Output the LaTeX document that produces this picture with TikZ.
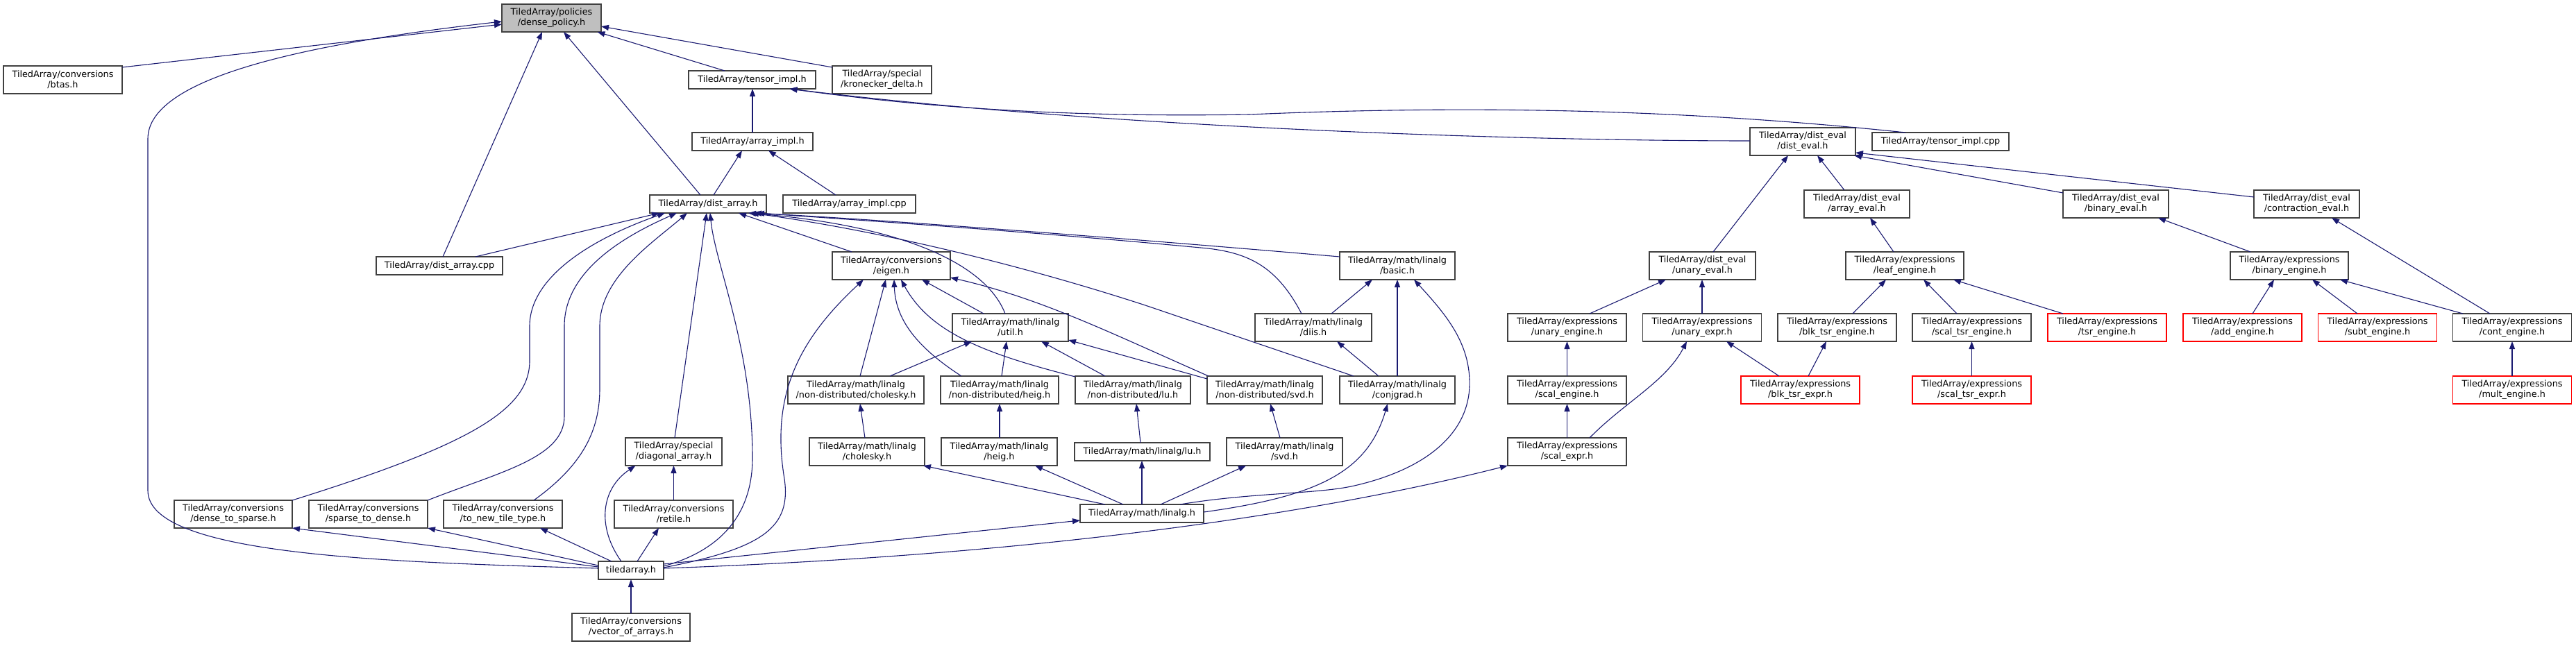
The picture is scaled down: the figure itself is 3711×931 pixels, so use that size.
\documentclass[tikz,border=0pt]{standalone}
\usepackage{fontspec}
\setmainfont{DejaVu Sans}
\usetikzlibrary{arrows.meta,calc}
\definecolor{edgec}{RGB}{25,25,112}
\begin{document}
\begin{tikzpicture}[x=0.5pt,y=-0.5pt,
  box/.style={draw=black!75, line width=0.6pt, fill=white, inner sep=0pt, align=center, font=\fontsize{6.4pt}{7.5pt}\selectfont},
  two/.style={minimum height=20pt},
  one/.style={minimum height=13pt},
  trunc/.style={draw=red},
  mainnode/.style={fill=black!25},
  inc/.style={draw=edgec, line width=0.55pt, -{Triangle[length=5.5pt,width=4pt]}}]
\useasboundingbox (0,0) rectangle (3711,931);
% row 1
\node[box,two,mainnode,minimum width=71.5pt] (dp) at (794.5,26) {TiledArray/policies\\/dense\_policy.h};
% row 2
\node[box,two,minimum width=85.5pt] (btas) at (90.5,115) {TiledArray/conversions\\/btas.h};
\node[box,one,minimum width=91.5pt] (timpl) at (1083.5,115) {TiledArray/tensor\_impl.h};
\node[box,two,minimum width=71.5pt] (kron) at (1270.5,115) {TiledArray/special\\/kronecker\_delta.h};
% row 3
\node[box,one,minimum width=87pt] (aimpl) at (1084,204) {TiledArray/array\_impl.h};
\node[box,two,minimum width=76pt] (deval) at (2597,204) {TiledArray/dist\_eval\\/dist\_eval.h};
\node[box,one,minimum width=98.5pt] (tcpp) at (2795.5,204) {TiledArray/tensor\_impl.cpp};
% row 4
\node[box,one,minimum width=84pt] (darr) at (1020,294) {TiledArray/dist\_array.h};
\node[box,one,minimum width=95.5pt] (acpp) at (1223.5,294) {TiledArray/array\_impl.cpp};
\node[box,two,minimum width=76pt] (aeval) at (2675,294) {TiledArray/dist\_eval\\/array\_eval.h};
\node[box,two,minimum width=76pt] (beval) at (3048,294) {TiledArray/dist\_eval\\/binary\_eval.h};
\node[box,two,minimum width=76pt] (ceval) at (3323,294) {TiledArray/dist\_eval\\/contraction\_eval.h};
% row 5
\node[box,one,minimum width=91pt] (dcpp) at (633,383) {TiledArray/dist\_array.cpp};
\node[box,two,minimum width=85pt] (eigen) at (1284,383) {TiledArray/conversions\\/eigen.h};
\node[box,two,minimum width=83pt] (basic) at (2013,383) {TiledArray/math/linalg\\/basic.h};
\node[box,two,minimum width=76.5pt] (ueval) at (2452.5,383) {TiledArray/dist\_eval\\/unary\_eval.h};
\node[box,two,minimum width=85pt] (leaf) at (2744,383) {TiledArray/expressions\\/leaf\_engine.h};
\node[box,two,minimum width=85pt] (bengine) at (3298,383) {TiledArray/expressions\\/binary\_engine.h};
% row 6
\node[box,two,minimum width=83.5pt] (util) at (1455.5,472) {TiledArray/math/linalg\\/util.h};
\node[box,two,minimum width=84pt] (diis) at (1892,472) {TiledArray/math/linalg\\/diis.h};
\node[box,two,minimum width=85.5pt] (uengine) at (2257.5,472) {TiledArray/expressions\\/unary\_engine.h};
\node[box,two,minimum width=85.5pt] (uexpr) at (2452,472) {TiledArray/expressions\\/unary\_expr.h};
\node[box,two,minimum width=85.5pt] (blkeng) at (2646.5,472) {TiledArray/expressions\\/blk\_tsr\_engine.h};
\node[box,two,minimum width=85.5pt] (stseng) at (2840.5,472) {TiledArray/expressions\\/scal\_tsr\_engine.h};
\node[box,two,trunc,minimum width=85.5pt] (tsreng) at (3035.5,472) {TiledArray/expressions\\/tsr\_engine.h};
\node[box,two,trunc,minimum width=85.5pt] (addeng) at (3230.5,472) {TiledArray/expressions\\/add\_engine.h};
\node[box,two,trunc,minimum width=85.5pt] (subeng) at (3425,472) {TiledArray/expressions\\/subt\_engine.h};
\node[box,two,minimum width=85.5pt] (conteng) at (3619,472) {TiledArray/expressions\\/cont\_engine.h};
% row 7
\node[box,two,minimum width=98pt] (ndchol) at (1233,562) {TiledArray/math/linalg\\/non-distributed/cholesky.h};
\node[box,two,minimum width=85pt] (ndheig) at (1440,562) {TiledArray/math/linalg\\/non-distributed/heig.h};
\node[box,two,minimum width=83pt] (ndlu) at (1632,562) {TiledArray/math/linalg\\/non-distributed/lu.h};
\node[box,two,minimum width=83pt] (ndsvd) at (1822,562) {TiledArray/math/linalg\\/non-distributed/svd.h};
\node[box,two,minimum width=83pt] (conjgrad) at (2013,562) {TiledArray/math/linalg\\/conjgrad.h};
\node[box,two,minimum width=85.5pt] (sceng) at (2257.5,562) {TiledArray/expressions\\/scal\_engine.h};
\node[box,two,trunc,minimum width=85.5pt] (blkexpr) at (2593.5,562) {TiledArray/expressions\\/blk\_tsr\_expr.h};
\node[box,two,trunc,minimum width=85.5pt] (stsexpr) at (2840.5,562) {TiledArray/expressions\\/scal\_tsr\_expr.h};
\node[box,two,trunc,minimum width=85.5pt] (multeng) at (3619,562) {TiledArray/expressions\\/mult\_engine.h};
% row 8
\node[box,two,minimum width=69.5pt] (diag) at (970.5,651) {TiledArray/special\\/diagonal\_array.h};
\node[box,two,minimum width=83pt] (chol) at (1249,651) {TiledArray/math/linalg\\/cholesky.h};
\node[box,two,minimum width=83.5pt] (heig) at (1439.5,651) {TiledArray/math/linalg\\/heig.h};
\node[box,one,minimum width=97.5pt] (lu) at (1645.5,651) {TiledArray/math/linalg/lu.h};
\node[box,two,minimum width=83.5pt] (svd) at (1850.5,651) {TiledArray/math/linalg\\/svd.h};
\node[box,two,minimum width=85.5pt] (scexpr) at (2257.5,651) {TiledArray/expressions\\/scal\_expr.h};
% row 9
\node[box,two,minimum width=85pt] (d2s) at (336,741) {TiledArray/conversions\\/dense\_to\_sparse.h};
\node[box,two,minimum width=85.5pt] (s2d) at (530.5,741) {TiledArray/conversions\\/sparse\_to\_dense.h};
\node[box,two,minimum width=85.5pt] (tnt) at (724.5,741) {TiledArray/conversions\\/to\_new\_tile\_type.h};
\node[box,two,minimum width=85.5pt] (retile) at (970.5,741) {TiledArray/conversions\\/retile.h};
\node[box,one,minimum width=89pt] (linalg) at (1645,740) {TiledArray/math/linalg.h};
% row 10, 11
\node[box,one,minimum width=47pt] (ta) at (909,822) {tiledarray.h};
\node[box,two,minimum width=85pt] (voa) at (909,904) {TiledArray/conversions\\/vector\_of\_arrays.h};

% ---- edges: dense_policy.h
\draw[inc] ($(btas)+(85.5,-18)$) -- ($(dp)+(-71.5,9)$);
\draw[inc] ($(ta)+(-47,-3)$) .. controls (550,810) and (213,800) .. (213,707) -- (213,200) .. controls (213,110) and (450,62) .. ($(dp)+(-71.5,5)$);
\draw[inc] ($(dcpp)+(5,-13)$) -- ($(dp)+(-13.5,20)$);
\draw[inc] ($(darr)+(-11,-13)$) -- ($(dp)+(17.5,20)$);
\draw[inc] ($(timpl)+(-39.5,-13)$) -- ($(dp)+(66,20)$);
\draw[inc] ($(kron)+(-71.5,-18)$) -- ($(dp)+(71.5,12)$);
% tensor_impl.h
\draw[inc] ($(aimpl)+(0,-13)$) -- ($(timpl)+(0.5,13)$);
\draw[inc] ($(tcpp)+(-50.5,-13)$) .. controls (2450,160) and (2150,150) .. (1800,165) .. controls (1500,170) and (1300,150) .. ($(timpl)+(54,13)$);
\draw[inc] ($(deval)+(-76,-1)$) .. controls (2200,203) and (1600,185) .. ($(timpl)+(54,13)$);
% array_impl.h
\draw[inc] ($(darr)+(8,-13)$) -- ($(aimpl)+(-15,13)$);
\draw[inc] ($(acpp)+(-19.5,-13)$) -- ($(aimpl)+(23,13)$);
% dist_eval.h
\draw[inc] ($(ueval)+(15.5,-20)$) -- ($(deval)+(-21,20)$);
\draw[inc] ($(aeval)+(-18,-20)$) -- ($(deval)+(21,20)$);
\draw[inc] ($(beval)+(-76,-16)$) -- ($(deval)+(74,20)$);
\draw[inc] ($(ceval)+(-76,-10)$) -- ($(deval)+(76,16)$);
% dist_array.h
\draw[inc] ($(dcpp)+(52,-13)$) -- ($(darr)+(-70,13)$);
\draw[inc] ($(d2s)+(85,-20)$) .. controls (680,640) and (763,590) .. (763,520) -- (763,470) .. controls (763,400) and (850,345) .. ($(darr)+(-62,13)$);
\draw[inc] ($(s2d)+(85.5,-20)$) .. controls (720,680) and (813,660) .. (813,600) -- (813,470) .. controls (813,390) and (900,340) .. ($(darr)+(-45,13)$);
\draw[inc] ($(tnt)+(44.5,-20)$) .. controls (840,670) and (864,620) .. (864,560) -- (864,470) .. controls (864,400) and (940,350) .. ($(darr)+(-30,13)$);
\draw[inc] ($(diag)+(1.5,-20)$) -- ($(darr)+(-2,13)$);
\draw[inc] ($(ta)+(47,-6)$) .. controls (1050,790) and (1084,730) .. (1084,660) .. controls (1084,500) and (1030,380) .. ($(darr)+(3,13)$);
\draw[inc] ($(eigen)+(-57,-20)$) -- ($(darr)+(44,13)$);
\draw[inc] ($(util)+(-7.5,-20)$) .. controls (1420,380) and (1300,325) .. ($(darr)+(58,13)$);
\draw[inc] ($(conjgrad)+(-63,-20)$) -- (1650,440) .. controls (1450,375) and (1250,330) .. ($(darr)+(62,13)$);
\draw[inc] ($(basic)+(-83,-13)$) .. controls (1700,350) and (1300,318) .. ($(darr)+(66,13)$);
\draw[inc] ($(diis)+(-17,-20)$) .. controls (1840,385) and (1800,365) .. (1740,358) .. controls (1500,335) and (1250,318) .. ($(darr)+(70,13)$);
% eigen.h
\draw[inc] ($(ta)+(47,-4)$) .. controls (1100,790) and (1140,760) .. (1130,690) .. controls (1110,570) and (1150,490) .. ($(eigen)+(-40,20)$);
\draw[inc] ($(ndchol)+(6,-20)$) -- ($(eigen)+(-8,20)$);
\draw[inc] ($(ndheig)+(-55,-20)$) .. controls (1320,500) and (1290,460) .. ($(eigen)+(4,20)$);
\draw[inc] ($(ndlu)+(-83,-19)$) .. controls (1420,510) and (1340,480) .. ($(eigen)+(14,20)$);
\draw[inc] ($(util)+(-38.5,-20)$) -- ($(eigen)+(44,20)$);
\draw[inc] ($(ndsvd)+(-81,-20)$) .. controls (1600,480) and (1500,430) .. ($(eigen)+(85,17)$);
% util.h
\draw[inc] ($(ndchol)+(49,-20)$) -- ($(util)+(-55.5,20)$);
\draw[inc] ($(ndheig)+(3,-20)$) -- ($(util)+(-5.5,20)$);
\draw[inc] ($(ndlu)+(-40,-20)$) -- ($(util)+(44.5,20)$);
\draw[inc] ($(ndsvd)+(-83,-16)$) -- ($(util)+(83.5,18)$);
% non-distributed
\draw[inc] ($(chol)+(-3,-20)$) -- ($(ndchol)+(6,20)$);
\draw[inc] ($(heig)+(0.5,-20)$) -- ($(ndheig)+(0,20)$);
\draw[inc] ($(lu)+(-2.5,-13)$) -- ($(ndlu)+(5,20)$);
\draw[inc] ($(svd)+(-6.5,-20)$) -- ($(ndsvd)+(8,20)$);
% linalg.h
\draw[inc] ($(linalg)+(-53,-13)$) -- ($(chol)+(81,20)$);
\draw[inc] ($(linalg)+(-27,-13)$) -- ($(heig)+(51.5,20)$);
\draw[inc] ($(linalg)+(0,-13)$) -- ($(lu)+(-0.5,13)$);
\draw[inc] ($(linalg)+(27,-13)$) -- ($(svd)+(-55.5,20)$);
\draw[inc] ($(linalg)+(89,-2)$) .. controls (1900,715) and (1970,680) .. ($(conjgrad)+(-14,20)$);
\draw[inc] ($(linalg)+(55,-13)$) .. controls (1800,710) and (1900,712) .. (1951,700) .. controls (2060,675) and (2120,620) .. (2117,547) .. controls (2115,490) and (2080,450) .. ($(basic)+(24,20)$);
% basic, diis, conjgrad
\draw[inc] ($(diis)+(26,-20)$) -- ($(basic)+(-36,20)$);
\draw[inc] ($(conjgrad)+(0,-20)$) -- ($(basic)+(0,20)$);
\draw[inc] ($(conjgrad)+(-27,-20)$) -- ($(diis)+(34,20)$);
% tiledarray.h
\draw[inc] ($(ta)+(-47,-5)$) -- ($(d2s)+(85,20)$);
\draw[inc] ($(ta)+(-47,-7)$) -- ($(s2d)+(85.5,20)$);
\draw[inc] ($(ta)+(-28,-13)$) -- ($(tnt)+(53.5,20)$);
\draw[inc] ($(ta)+(-14,-13)$) .. controls (860,760) and (865,705) .. ($(diag)+(-55,20)$);
\draw[inc] ($(ta)+(9,-13)$) -- ($(retile)+(-21.5,20)$);
\draw[inc] ($(ta)+(47,-9)$) -- ($(linalg)+(-89,10)$);
\draw[inc] ($(ta)+(47,-3)$) .. controls (1500,800) and (1900,740) .. ($(scexpr)+(-85.5,20)$);
\draw[inc] ($(voa)+(0,-20)$) -- ($(ta)+(0,13)$);
\draw[inc] ($(retile)+(0,-20)$) -- ($(diag)+(0,20)$);
% expressions
\draw[inc] ($(leaf)+(-16,-20)$) -- ($(aeval)+(19,20)$);
\draw[inc] ($(bengine)+(-56,-20)$) -- ($(beval)+(61,20)$);
\draw[inc] ($(conteng)+(-32,-20)$) -- ($(ceval)+(36,20)$);
\draw[inc] ($(uengine)+(32.5,-20)$) -- ($(ueval)+(-52.5,20)$);
\draw[inc] ($(uexpr)+(0,-20)$) -- ($(ueval)+(-0.5,20)$);
\draw[inc] ($(blkeng)+(22.5,-20)$) -- ($(leaf)+(-27,20)$);
\draw[inc] ($(stseng)+(-21.5,-20)$) -- ($(leaf)+(27,20)$);
\draw[inc] ($(tsreng)+(-63.5,-20)$) -- ($(leaf)+(70,20)$);
\draw[inc] ($(addeng)+(14.5,-20)$) -- ($(bengine)+(-22,20)$);
\draw[inc] ($(subeng)+(-29,-20)$) -- ($(bengine)+(33,20)$);
\draw[inc] ($(conteng)+(-71,-20)$) -- ($(bengine)+(73,20)$);
\draw[inc] ($(sceng)+(0,-20)$) -- ($(uengine)+(0,20)$);
\draw[inc] ($(scexpr)+(0,-20)$) -- ($(sceng)+(0,20)$);
\draw[inc] ($(scexpr)+(32.5,-20)$) .. controls (2340,580) and (2400,550) .. ($(uexpr)+(-22,20)$);
\draw[inc] ($(blkexpr)+(-30.5,-20)$) -- ($(uexpr)+(35,20)$);
\draw[inc] ($(blkexpr)+(11.5,-20)$) -- ($(blkeng)+(-15.5,20)$);
\draw[inc] ($(stsexpr)+(0,-20)$) -- ($(stseng)+(0,20)$);
\draw[inc] ($(multeng)+(0,-20)$) -- ($(conteng)+(0,20)$);
\end{tikzpicture}
\end{document}
